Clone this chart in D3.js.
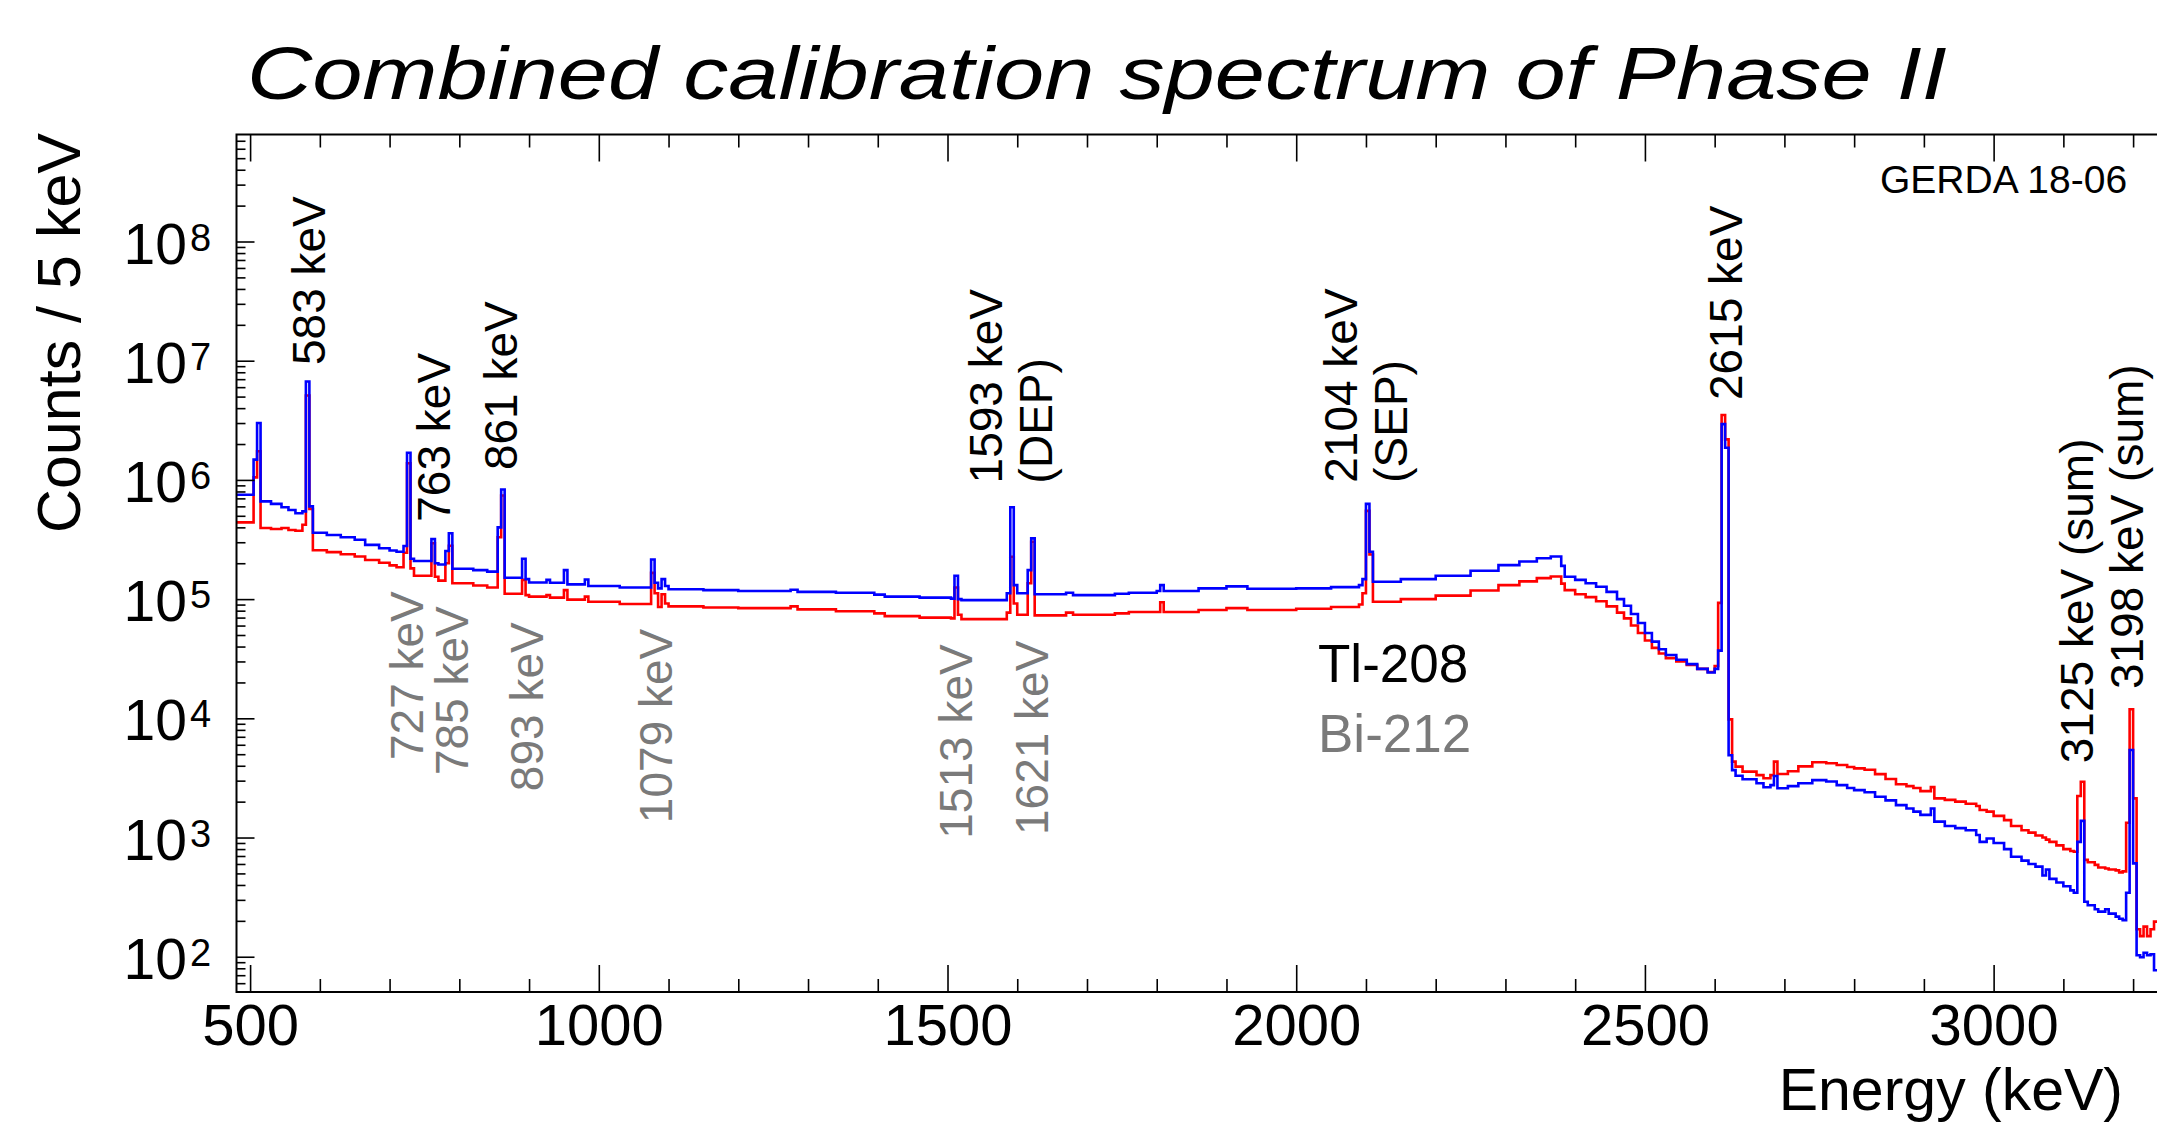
<!DOCTYPE html>
<html>
<head>
<meta charset="utf-8">
<script src="https://cdn.jsdelivr.net/npm/d3@7"></script>
<style>
  body { margin: 0; background: #fff; }
  text { font-family: 'Liberation Sans', Arial, Helvetica, sans-serif; fill: #000; }
</style>
</head>
<body>
<div id="chart"></div>
<script>
// lower bin edges in keV (variable width, 5 keV around the lines)
const binStart = [
  480, 505, 510, 515, 530, 545, 555, 565, 575, 580, 585, 590, 610, 630, 650, 665, 685, 700, 710,
  720, 725, 730, 735, 760, 765, 770, 780, 785, 790, 820, 840, 855, 860, 865, 890, 895, 900, 925,
  930, 950, 955, 980, 985, 1030, 1075, 1080, 1085, 1090, 1095, 1100, 1150, 1200, 1275, 1285, 1340,
  1395, 1410, 1460, 1505, 1510, 1515, 1520, 1585, 1590, 1595, 1600, 1615, 1620, 1625, 1670, 1680,
  1740, 1760, 1800, 1805, 1810, 1860, 1900, 1930, 2000, 2050, 2090, 2095, 2100, 2105, 2110, 2150,
  2200, 2250, 2290, 2320, 2345, 2365, 2380, 2385, 2400, 2415, 2430, 2445, 2460, 2470, 2480, 2490,
  2500, 2510, 2520, 2530, 2545, 2560, 2575, 2590, 2600, 2605, 2610, 2615, 2620, 2625, 2630, 2640,
  2660, 2670, 2680, 2685, 2690, 2705, 2720, 2740, 2760, 2775, 2790, 2800, 2815, 2830, 2845, 2860,
  2875, 2885, 2895, 2910, 2915, 2930, 2945, 2960, 2975, 2980, 2990, 3000, 3015, 3025, 3040, 3050,
  3060, 3070, 3075, 3080, 3090, 3100, 3110, 3115, 3120, 3125, 3130, 3135, 3145, 3150, 3160, 3165,
  3175, 3180, 3185, 3190, 3195, 3200, 3205, 3210, 3215, 3220, 3225, 3230
];
const binEnd = 3240;

// counts / 5 keV, blue histogram
const countsBlue = [
  7.5e5, 1.48e6, 3.0e6, 6.6e5, 6.3e5, 5.9e5, 5.6e5, 5.25e5, 5.45e5, 6.7e6, 6.0e5, 3.6e5, 3.45e5,
  3.3e5, 3.15e5, 2.85e5, 2.67e5, 2.56e5, 2.5e5,
  2.79e5, 1.69e6, 2.18e5, 2.09e5, 3.19e5, 2.0e5, 1.95e5, 2.53e5, 3.57e5, 1.8e5, 1.75e5, 1.7e5,
  4.0e5, 8.3e5, 1.51e5, 2.18e5, 1.47e5, 1.38e5, 1.45e5,
  1.37e5, 1.75e5, 1.33e5, 1.46e5, 1.29e5, 1.25e5, 2.15e5, 1.37e5, 1.23e5, 1.47e5, 1.29e5, 1.21e5,
  1.19e5, 1.17e5, 1.2e5, 1.15e5, 1.13e5,
  1.09e5, 1.05e5, 1.03e5, 1.01e5, 1.57e5, 1.0e5, 9.8e4, 1.12e5, 5.9e5, 1.31e5, 1.12e5, 1.75e5,
  3.23e5, 1.1e5, 1.13e5, 1.08e5,
  1.11e5, 1.13e5, 1.17e5, 1.31e5, 1.17e5, 1.23e5, 1.28e5, 1.22e5, 1.23e5, 1.26e5, 1.31e5, 1.47e5,
  6.3e5, 2.5e5, 1.4e5, 1.47e5,
  1.57e5, 1.73e5, 1.93e5, 2.07e5, 2.2e5, 2.28e5, 1.9e5, 1.54e5, 1.45e5, 1.36e5, 1.27e5, 1.15e5,
  1.0e5, 8.8e4, 7.5e4, 6.3e4,
  5.2e4, 4.4e4, 3.8e4, 3.4e4, 3.1e4, 2.85e4, 2.6e4, 2.42e4, 2.6e4, 3.7e4, 2.94e6, 1.86e6, 4.9e3,
  3.68e3, 3.3e3, 3.08e3,
  2.85e3, 2.64e3, 2.75e3, 3.28e3, 2.59e3, 2.7e3, 2.85e3, 3.03e3, 2.95e3, 2.75e3, 2.6e3, 2.5e3,
  2.4e3, 2.2e3, 2.05e3, 1.87e3,
  1.75e3, 1.65e3, 1.55e3, 1.75e3, 1.36e3, 1.25e3, 1.2e3, 1.15e3, 1.05e3, 920, 980, 900, 800, 690,
  640, 600,
  570, 480, 540, 450, 420, 390, 360, 344, 920, 1380, 289, 270, 250, 239, 250, 230,
  217, 208, 203, 344, 5420, 607, 103, 99, 108, 103, 105, 77
];

// counts / 5 keV, red histogram
const countsRed = [
  4.4e5, 1.05e6, 1.74e6, 3.95e5, 3.88e5, 3.95e5, 3.8e5, 3.75e5, 4.2e5, 5.1e6, 5.7e5, 2.57e5, 2.48e5,
  2.38e5, 2.28e5, 2.13e5, 2.02e5, 1.92e5, 1.85e5,
  2.45e5, 1.38e6, 1.81e5, 1.57e5, 2.94e5, 1.54e5, 1.43e5, 2.0e5, 2.8e5, 1.36e5, 1.3e5, 1.25e5,
  3.3e5, 7.4e5, 1.11e5, 1.45e5, 1.08e5, 1.05e5, 1.08e5,
  1.03e5, 1.19e5, 9.9e4, 1.05e5, 9.5e4, 9.1e4, 1.66e5, 1.12e5, 8.6e4, 1.1e5, 9.2e4, 8.7e4,
  8.5e4, 8.4e4, 8.7e4, 8.2e4, 7.9e4,
  7.6e4, 7.2e4, 7.0e4, 6.9e4, 1.25e5, 7.4e4, 6.8e4, 7.7e4, 2.27e5, 9.2e4, 7.4e4, 1.36e5,
  3.03e5, 7.3e4, 7.7e4, 7.4e4,
  7.6e4, 7.8e4, 7.8e4, 9.4e4, 7.8e4, 8.1e4, 8.4e4, 8.1e4, 8.3e4, 8.6e4, 9.0e4, 1.12e5,
  5.5e5, 2.37e5, 9.5e4, 1.0e5,
  1.07e5, 1.18e5, 1.31e5, 1.41e5, 1.5e5, 1.55e5, 1.35e5, 1.19e5, 1.1e5, 1.04e5, 9.6e4, 8.7e4,
  7.7e4, 6.9e4, 6.0e4, 5.2e4,
  4.5e4, 3.9e4, 3.5e4, 3.2e4, 3.0e4, 2.8e4, 2.6e4, 2.45e4, 2.75e4, 9.3e4, 3.5e6, 2.19e6, 9.8e3,
  4.33e3, 3.93e3, 3.57e3,
  3.34e3, 3.14e3, 3.34e3, 4.33e3, 3.41e3, 3.6e3, 3.95e3, 4.28e3, 4.2e3, 4.06e3, 3.9e3, 3.8e3,
  3.7e3, 3.4e3, 3.1e3, 2.8e3,
  2.7e3, 2.6e3, 2.45e3, 2.65e3, 2.13e3, 2.07e3, 2.0e3, 1.92e3, 1.84e3, 1.7e3, 1.65e3, 1.52e3,
  1.4e3, 1.25e3, 1.15e3, 1.1e3,
  1.04e3, 1.0e3, 960, 920, 860, 800, 770, 760, 2230, 2940, 649, 620, 590, 560, 550, 540,
  530, 510, 520, 1330, 11900, 2130, 170, 149, 179, 149, 170, 197
];

// Tl-208 lines (black) and Bi-212 lines (grey), anchored at [keV, counts] of the text start
const tlLabels = ['583 keV', '763 keV', '861 keV', '1593 keV|(DEP)', '2104 keV|(SEP)', '2615 keV',
  '3125 keV (sum)', '3198 keV (sum)'];
const tlLabelE = [607, 787, 883, 1578, 2087, 2639, 3142, 3214];
const tlLabelC = [9.2e6, 4.46e5, 1.21e6, 9.35e5, 9.46e5, 4.68e6, 4.2e3, 1.76e4];

const biLabels = ['727 keV', '785 keV', '893 keV', '1079 keV', '1513 keV', '1621 keV'];
const biLabelE = [748, 812, 920, 1105, 1535, 1644];
const biLabelC = [4.47e3, 3.34e3, 2.45e3, 1.32e3, 977, 1.05e3];

const xMajor = [500, 1000, 1500, 2000, 2500, 3000];
const yDecades = [2, 3, 4, 5, 6, 7, 8];

const W = 2157;
const H = 1125;
const frame = {left: 236.5, top: 134.5, right: 2161, bottom: 992};
const grey = '#7a7a7a';

const svg = d3.select('#chart')
  .append('svg')
  .attr('width', W)
  .attr('height', H)
  .style('display', 'block');

svg.append('rect').attr('width', W).attr('height', H).attr('fill', '#fff');

const x = d3.scaleLinear()
  .domain([480.5, 3240])
  .range([frame.left, frame.right]);

const y = d3.scaleLog()
  .domain([50.6, 7.9e8])
  .range([frame.bottom, frame.top]);

svg.append('clipPath')
  .attr('id', 'plotclip')
  .append('rect')
  .attr('x', frame.left)
  .attr('y', frame.top)
  .attr('width', frame.right - frame.left)
  .attr('height', frame.bottom - frame.top);

// histograms
const line = d3.line()
  .x(d => x(d[0]))
  .y(d => y(d[1]))
  .curve(d3.curveStepAfter);

function histPoints(counts) {
  let pts = binStart.map((e, i) => [e, counts[i]]);
  pts.push([binEnd, counts[counts.length - 1]]);
  return pts;
}

const plot = svg.append('g').attr('clip-path', 'url(#plotclip)');

plot.append('path')
  .attr('d', line(histPoints(countsRed)))
  .attr('fill', 'none')
  .attr('stroke', '#ff0000')
  .attr('stroke-width', 2.6);

plot.append('path')
  .attr('d', line(histPoints(countsBlue)))
  .attr('fill', 'none')
  .attr('stroke', '#0000ff')
  .attr('stroke-width', 2.6);

// x ticks, bottom and top
let xMinor = d3.range(500, 3240, 100).filter(v => v % 500 !== 0);

svg.append('g')
  .attr('transform', 'translate(0,' + frame.bottom + ')')
  .call(d3.axisBottom(x).tickValues(xMinor).tickSize(-13).tickFormat(''))
  .call(g => g.select('.domain').remove());

svg.append('g')
  .attr('transform', 'translate(0,' + frame.bottom + ')')
  .call(d3.axisBottom(x).tickValues(xMajor).tickSize(-27).tickPadding(12).tickFormat(d3.format('d')))
  .call(g => g.select('.domain').remove())
  .call(g => g.selectAll('text')
    .attr('font-size', 58)
    .attr('font-family', "'Liberation Sans', Arial, sans-serif")
    .attr('fill', '#000'));

svg.append('g')
  .attr('transform', 'translate(0,' + frame.top + ')')
  .call(d3.axisTop(x).tickValues(xMinor).tickSize(-13).tickFormat(''))
  .call(g => g.select('.domain').remove());

svg.append('g')
  .attr('transform', 'translate(0,' + frame.top + ')')
  .call(d3.axisTop(x).tickValues(xMajor).tickSize(-27).tickFormat(''))
  .call(g => g.select('.domain').remove());

// y ticks
let yMinor = [];
let yDom = y.domain();
for (let d = 1; d <= 8; d++) {
  for (let k = 2; k <= 9; k++) {
    let v = k * Math.pow(10, d);
    if (v > yDom[0] && v < yDom[1]) yMinor.push(v);
  }
}
let yMajorV = yDecades.map(d => Math.pow(10, d));

svg.append('g')
  .attr('transform', 'translate(' + frame.left + ',0)')
  .call(d3.axisLeft(y).tickValues(yMinor).tickSize(-9).tickFormat(''))
  .call(g => g.select('.domain').remove());

svg.append('g')
  .attr('transform', 'translate(' + frame.left + ',0)')
  .call(d3.axisLeft(y).tickValues(yMajorV).tickSize(-18).tickFormat(''))
  .call(g => g.select('.domain').remove());

svg.selectAll('.tick line').attr('stroke', '#000').attr('stroke-width', 1.6);

let yLab = svg.append('g');
yDecades.forEach(function(d) {
  let ty = y(Math.pow(10, d));
  yLab.append('text')
    .attr('x', 187)
    .attr('y', ty + 22)
    .attr('text-anchor', 'end')
    .attr('font-size', 57)
    .text('10');
  yLab.append('text')
    .attr('x', 190)
    .attr('y', ty + 9)
    .attr('font-size', 38)
    .text(d);
});

// frame
svg.append('path')
  .attr('d', 'M' + frame.right + ',' + frame.top + 'H' + frame.left + 'V' + frame.bottom + 'H' + frame.right)
  .attr('fill', 'none')
  .attr('stroke', '#000')
  .attr('stroke-width', 2);

// axis titles
svg.append('text')
  .attr('x', 2123)
  .attr('y', 1110)
  .attr('text-anchor', 'end')
  .attr('font-size', 59)
  .text('Energy (keV)');

svg.append('text')
  .attr('transform', 'translate(80,133) rotate(-90)')
  .attr('text-anchor', 'end')
  .attr('font-size', 61)
  .text('Counts / 5 keV');

// title, stretched to the width of the original
let title = svg.append('text')
  .attr('font-family', "'DejaVu Sans', sans-serif")
  .attr('font-style', 'italic')
  .attr('font-size', 74)
  .text('Combined calibration spectrum of Phase II');
let tLen = title.node().getComputedTextLength();
title.attr('transform', 'translate(247,99) scale(' + (1700 / tLen) + ',1)');

svg.append('text')
  .attr('x', 1880)
  .attr('y', 193)
  .attr('font-size', 39)
  .text('GERDA 18-06');

// peak labels
function peakLabels(labels, es, cs, color) {
  labels.forEach(function(t, i) {
    let parts = t.split('|');
    let txt = svg.append('text')
      .attr('transform', 'translate(' + x(es[i]) + ',' + y(cs[i]) + ') rotate(-90)')
      .attr('font-size', 46)
      .style('fill', color);
    parts.forEach(function(p, j) {
      txt.append('tspan')
        .attr('x', 0)
        .attr('dy', j === 0 ? 0 : 50)
        .text(p);
    });
  });
}

peakLabels(tlLabels, tlLabelE, tlLabelC, '#000');
peakLabels(biLabels, biLabelE, biLabelC, grey);

// legend
svg.append('text')
  .attr('x', 1318)
  .attr('y', 682)
  .attr('font-size', 53)
  .text('Tl-208');

svg.append('text')
  .attr('x', 1318)
  .attr('y', 752)
  .attr('font-size', 53)
  .style('fill', grey)
  .text('Bi-212');
</script>
</body>
</html>
